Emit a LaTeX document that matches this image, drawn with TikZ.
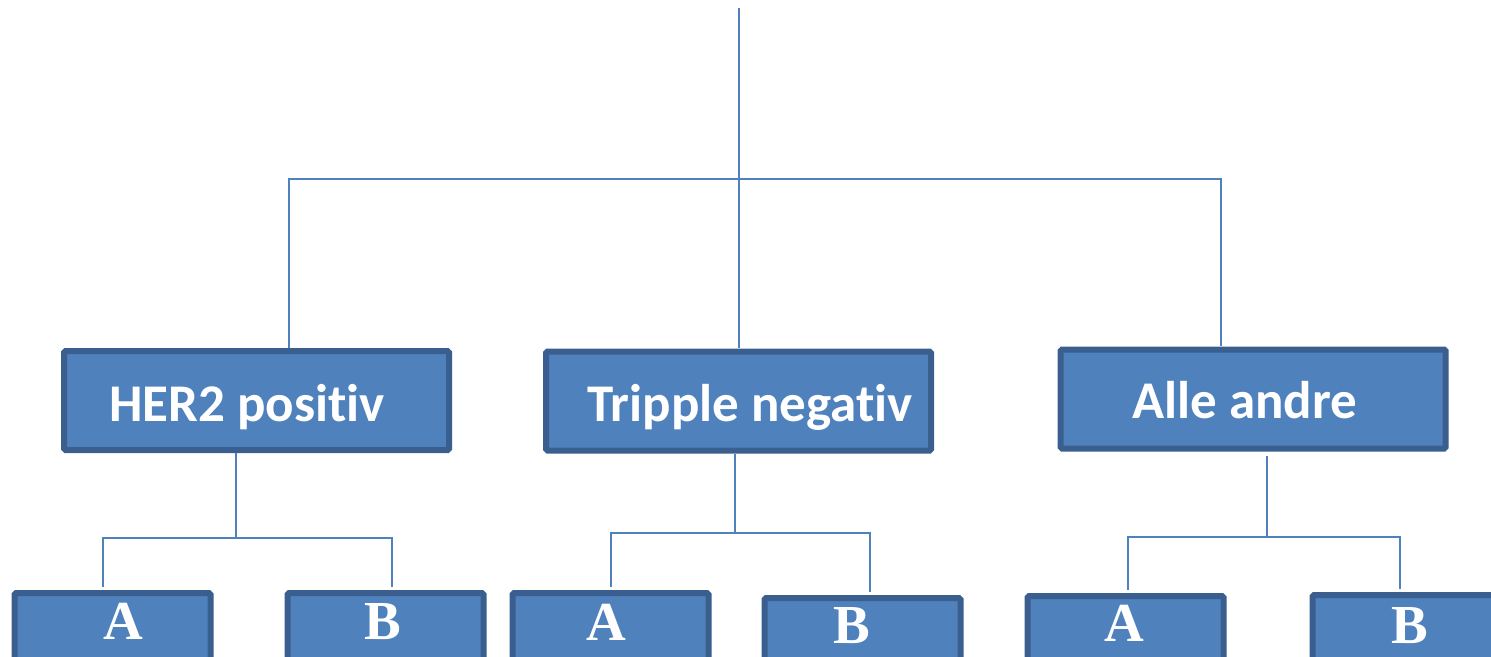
\documentclass[tikz,border=0pt]{standalone}
\usepackage{fontspec}
\newfontfamily\boxfont[Ligatures={NoCommon}]{Carlito}
\newfontfamily\letterfont{Liberation Serif}
\definecolor{boxfill}{HTML}{4F81BD}
\definecolor{boxedge}{HTML}{3A5F8F}
\definecolor{linecol}{HTML}{4F81BD}
\tikzset{
  bigbox/.style={draw=boxedge, fill=boxfill, line width=6pt, rounded corners=1.5pt, inner sep=0pt, minimum width=385pt, minimum height=99pt},
  smallbox/.style={draw=boxedge, fill=boxfill, line width=6pt, rounded corners=1.5pt, inner sep=0pt, minimum width=196pt, minimum height=90pt, anchor=north},
  title/.style={text=white, font=\boxfont\bfseries\fontsize{53}{60}\selectfont, inner sep=0pt, anchor=base west},
  letter/.style={text=white, font=\letterfont\bfseries\fontsize{55}{60}\selectfont, inner sep=0pt, anchor=base},
  conn/.style={draw=linecol, line width=1.6pt}
}
\begin{document}
\begin{tikzpicture}[x=1pt,y=-1pt]
\useasboundingbox (0,0) rectangle (1491,656);
\clip (0,0) rectangle (1491,656);
% big boxes
\node[bigbox] (her) at (256.5,400.5) {};
\node[bigbox] (tri) at (738.5,401) {};
\node[bigbox] (alle) at (1253,399) {};
\node[title] (herT) at (109,421) {HER2 positiv};
\node[title] (triT) at (587,421) {Tripple negativ};
\node[title] (alleT) at (1132,418) {Alle andre};
% small boxes
\node[smallbox] (hA) at (112.5,590) {};
\node[smallbox] (hB) at (385.5,590) {};
\node[smallbox] (tA) at (610.5,590) {};
\node[smallbox] (tB) at (862.5,595) {};
\node[smallbox] (aA) at (1125.5,593) {};
\node[smallbox] (aB) at (1410.5,592) {};
\node[letter] (hAt) at (123,639) {A};
\node[letter] (hBt) at (383,639) {B};
\node[letter] (tAt) at (606,640) {A};
\node[letter] (tBt) at (852,643) {B};
\node[letter] (aAt) at (1124,641) {A};
\node[letter] (aBt) at (1410,643) {B};
% top tree
\coordinate (top) at (739,8);
\coordinate (j0) at (739,179);
\coordinate (herIn) at (289,348);
\coordinate (triIn) at (739,348);
\coordinate (alleIn) at (1221,346);
\draw[conn] (top) -- (triIn);
\draw[conn] (j0) -| (herIn);
\draw[conn] (j0) -| (alleIn);
% HER2 subtree
\coordinate (hOut) at (236,453);
\coordinate (hJ) at (236,538);
\coordinate (hAin) at (103,587);
\coordinate (hBin) at (392,587);
\draw[conn] (hOut) -- (hJ);
\draw[conn] (hJ) -| (hAin);
\draw[conn] (hJ) -| (hBin);
% Tripple subtree
\coordinate (tOut) at (735,454);
\coordinate (tJ) at (735,533);
\coordinate (tAin) at (611,587);
\coordinate (tBin) at (870,592);
\draw[conn] (tOut) -- (tJ);
\draw[conn] (tJ) -| (tAin);
\draw[conn] (tJ) -| (tBin);
% Alle subtree
\coordinate (aOut) at (1267,456);
\coordinate (aJ) at (1267,537);
\coordinate (aAin) at (1128,590);
\coordinate (aBin) at (1400,589);
\draw[conn] (aOut) -- (aJ);
\draw[conn] (aJ) -| (aAin);
\draw[conn] (aJ) -| (aBin);
\end{tikzpicture}
\end{document}
